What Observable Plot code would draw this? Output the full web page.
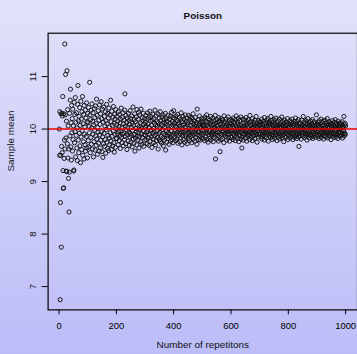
<!DOCTYPE html>
<html>
<head>
<meta charset="utf-8">
<script src="https://cdn.jsdelivr.net/npm/d3@7"></script>
<script src="https://cdn.jsdelivr.net/npm/@observablehq/plot@0.6"></script>
<style>
html, body { margin: 0; padding: 0; overflow: hidden; }
body { width: 357px; height: 354px; background: linear-gradient(to bottom, #e2e2fa, #bcbcf8); font-family: "Liberation Sans", Arial, sans-serif; }
#chart svg { display: block; }
</style>
</head>
<body>
<div id="chart"></div>
<script>
const title = "Poisson";
const xLabel = "Number of repetitons";
const yLabel = "Sample mean";
const xTicks = [0, 200, 400, 600, 800, 1000];
const yTicks = [7, 8, 9, 10, 11];
const trueMean = 10;

// sample means, repetitions 1..100
const means001 = [10, 9.5, 10.33, 6.75, 8.6, 9.5, 10.29, 7.75, 9.67, 10.3, 9.55, 10.25, 10.62, 9.21, 8.87, 8.88, 10.29, 9.44, 9.79, 11.62,
 9.62, 10.27, 11.04, 9.83, 9.2, 10.15, 9.19, 11.11, 9.72, 10.37, 9.45, 10.06, 9.06, 9.62, 8.42, 9.18, 10.3, 9.87, 10.55, 10.76,
 9.66, 10.12, 9.41, 10.45, 9.93, 10.2, 9.58, 10.38, 9.8, 10.06, 9.2, 9.22, 10.51, 9.74, 10.28, 9.95, 10.6, 9.47, 10.13, 9.88,
 10.31, 9.64, 10.02, 9.4, 10.47, 10.83, 9.79, 10.16, 9.55, 10.24, 9.92, 10.41, 9.68, 10.07, 9.36, 10.53, 9.85, 10.19, 9.61, 10.33,
 9.97, 10.62, 9.5, 10.1, 9.76, 10.28, 9.43, 10.45, 9.9, 10.04, 9.7, 10.36, 9.58, 10.21, 9.86, 10.5, 9.64, 10.14, 9.45, 10.3];
// repetitions 101..200
const means101 = [10.12, 9.78, 10.41, 9.66, 10.05, 9.93, 10.89, 10.27, 9.55, 10.18, 9.84, 10.36, 9.71, 10.02, 10.48, 9.62, 10.15, 9.9, 10.31, 9.47,
 10.08, 9.76, 10.39, 9.98, 10.22, 9.6, 10.44, 9.87, 10.11, 9.69, 10.57, 9.81, 10.26, 9.52, 10.03, 9.94, 10.35, 9.73, 10.17, 9.58,
 10.46, 9.89, 10.09, 9.64, 10.29, 9.79, 10.52, 9.95, 10.2, 9.57, 10.38, 9.85, 9.46, 10.13, 9.72, 10.42, 9.92, 10.24, 9.67, 10.06,
 9.8, 10.33, 9.54, 10.16, 9.99, 10.47, 9.75, 10.1, 9.63, 10.3, 9.88, 10.21, 9.59, 10.4, 9.83, 10.04, 9.7, 10.27, 9.93, 10.55,
 9.77, 10.14, 9.61, 10.34, 9.86, 10.07, 9.68, 10.23, 9.96, 10.43, 9.74, 10.11, 9.56, 10.28, 9.9, 10.19, 9.65, 10.37, 9.82, 10.01];
// repetitions 201..300
const means201 = [10.08, 9.82, 10.24, 9.91, 10.15, 9.7, 10.33, 9.95, 10.05, 9.78, 10.28, 9.87, 10.12, 9.63, 10.19, 9.96, 10.4, 9.84, 10.02, 9.74,
 10.22, 9.9, 10.31, 9.68, 10.1, 9.93, 10.17, 9.8, 10.36, 10.67, 9.86, 10.06, 9.72, 10.26, 9.98, 10.13, 9.61, 10.21, 9.89, 10.04,
 9.77, 10.3, 9.94, 10.16, 9.69, 10.09, 9.85, 10.35, 9.92, 10.2, 9.75, 10.03, 9.88, 10.25, 9.66, 10.11, 9.97, 10.42, 9.81, 10.07,
 9.73, 10.18, 9.9, 10.29, 9.58, 10.14, 9.83, 10.01, 9.95, 10.23, 9.7, 10.37, 9.87, 10.08, 9.79, 10.19, 9.93, 10.32, 9.64, 10.05,
 9.86, 10.27, 9.99, 10.12, 9.76, 10.38, 9.91, 10.02, 9.71, 10.22, 9.84, 10.15, 9.97, 10.3, 9.67, 10.09, 9.89, 10.2, 9.78, 10.04];
// repetitions 301..400
const means301 = [10.13, 9.88, 10.26, 9.8, 10.06, 9.93, 10.19, 9.72, 10.31, 9.96, 10.1, 9.83, 10.22, 9.69, 10.03, 9.9, 10.34, 9.77, 10.15, 9.98,
 10.24, 9.85, 10.07, 9.65, 10.17, 9.92, 10.28, 9.81, 10.01, 9.74, 10.2, 9.95, 10.11, 9.87, 10.36, 9.7, 10.08, 9.9, 10.25, 9.78,
 10.14, 9.97, 10.05, 9.84, 10.29, 9.62, 10.12, 9.91, 10.21, 9.8, 10.02, 9.94, 10.33, 9.76, 10.16, 9.86, 10.09, 9.73, 10.23, 9.99,
 10.06, 9.83, 10.27, 9.68, 10.13, 9.92, 10.18, 9.79, 10.04, 9.89, 10.3, 9.6, 10.1, 9.95, 10.2, 9.75, 10.15, 9.87, 10.07, 9.82,
 10.26, 9.93, 10.01, 9.71, 10.19, 9.9, 10.11, 9.85, 10.24, 9.77, 10.05, 9.96, 10.32, 9.8, 10.14, 9.88, 10.08, 9.74, 10.22, 10.35];
// repetitions 401..500
const means401 = [9.92, 10.11, 9.84, 10.2, 9.97, 10.06, 9.78, 10.25, 9.9, 10.03, 9.81, 10.16, 9.94, 10.28, 9.73, 10.09, 9.88, 10.13, 9.99, 10.22,
 9.76, 10.05, 9.91, 10.18, 9.83, 10.31, 9.95, 10.02, 9.7, 10.14, 9.87, 10.24, 9.93, 10.07, 9.8, 10.19, 9.96, 10.1, 9.75, 10.27,
 9.89, 10.04, 9.85, 10.15, 9.98, 10.21, 9.72, 10.08, 9.92, 10.12, 9.82, 10.26, 9.95, 10.01, 9.78, 10.17, 9.9, 10.23, 9.86, 10.06,
 9.97, 10.14, 9.74, 10.2, 9.88, 10.03, 9.93, 10.29, 9.81, 10.1, 9.96, 10.16, 9.77, 10.05, 9.91, 10.22, 9.84, 10.09, 9.99, 10.13,
 9.71, 10.38, 9.89, 10.02, 9.94, 10.18, 9.8, 10.07, 9.95, 10.25, 9.87, 10.11, 9.79, 10.04, 9.92, 10.15, 9.83, 10.2, 9.97, 10.08];
// repetitions 501..600
const means501 = [10.12, 9.9, 10.05, 9.82, 10.19, 9.96, 10.08, 9.78, 10.23, 9.92, 10.02, 9.86, 10.15, 9.99, 10.27, 9.8, 10.07, 9.93, 10.13, 9.75,
 10.2, 9.89, 10.04, 9.95, 10.17, 9.83, 10.1, 9.97, 10.24, 9.79, 10.06, 9.91, 10.14, 9.87, 10.01, 9.94, 10.21, 9.76, 10.09, 9.9,
 10.16, 9.84, 10.03, 9.98, 10.26, 9.43, 10.11, 9.92, 10.07, 9.81, 10.18, 9.95, 10.05, 9.88, 10.13, 9.77, 10.22, 9.93, 10.02, 9.85,
 10.15, 9.57, 9.99, 10.1, 9.8, 10.2, 9.9, 10.04, 9.94, 10.17, 9.82, 10.08, 9.96, 10.12, 9.74, 10.25, 9.89, 10.03, 9.92, 10.14,
 9.86, 10.06, 9.98, 10.19, 9.79, 10.1, 9.91, 10.01, 9.95, 10.23, 9.83, 10.07, 9.9, 10.16, 9.77, 10.11, 9.97, 10.04, 9.85, 10.18];
// repetitions 601..700
const means601 = [9.93, 10.09, 9.84, 10.15, 9.97, 10.05, 9.8, 10.21, 9.91, 10.02, 9.88, 10.12, 9.95, 10.18, 9.78, 10.07, 9.92, 10.25, 9.86, 10.03,
 9.98, 10.14, 9.82, 10.1, 9.94, 10.2, 9.76, 10.06, 9.9, 10.16, 9.87, 10.01, 9.96, 10.23, 9.81, 10.08, 9.93, 9.64, 9.85, 10.04,
 9.99, 10.19, 9.79, 10.11, 9.91, 10.06, 9.89, 10.17, 9.95, 10.02, 9.83, 10.22, 9.92, 10.09, 9.77, 10.14, 9.97, 10.05, 9.86, 10.18,
 9.9, 10.03, 9.94, 10.12, 9.8, 10.26, 9.88, 10.07, 9.96, 10.15, 9.84, 10.01, 9.92, 10.2, 9.78, 10.1, 9.98, 10.04, 9.87, 10.13,
 9.93, 10.08, 9.82, 10.17, 9.95, 10.02, 9.89, 10.24, 9.91, 10.06, 9.75, 10.11, 9.97, 10.03, 9.85, 10.16, 9.9, 10.09, 9.94, 10.14];
// repetitions 701..800
const means701 = [10.07, 9.9, 10.13, 9.85, 10.02, 9.96, 10.19, 9.81, 10.08, 9.93, 10.04, 9.88, 10.15, 9.97, 10.1, 9.79, 10.22, 9.92, 10.01, 9.86,
 10.12, 9.95, 10.06, 9.83, 10.17, 9.9, 10.03, 9.98, 10.2, 9.77, 10.09, 9.94, 10.14, 9.87, 10.05, 9.91, 10.11, 9.84, 10.24, 9.96,
 10.02, 9.89, 10.16, 9.8, 10.07, 9.93, 10.13, 9.86, 10.04, 9.99, 10.18, 9.82, 10.09, 9.92, 10.01, 9.88, 10.21, 9.95, 10.06, 9.78,
 10.12, 9.9, 10.03, 9.97, 10.15, 9.85, 10.08, 9.93, 10.19, 9.81, 10.05, 9.91, 10.1, 9.87, 10.02, 9.96, 10.23, 9.83, 10.07, 9.94,
 10.14, 9.89, 10.04, 9.76, 10.11, 9.98, 10.17, 9.86, 10.06, 9.92, 10.01, 9.84, 10.13, 9.95, 10.08, 9.9, 10.2, 9.8, 10.03, 9.97];
// repetitions 801..900
const means801 = [10.1, 9.88, 10.05, 9.94, 10.16, 9.83, 10.08, 9.91, 10.02, 9.97, 10.13, 9.86, 10.19, 9.92, 10.04, 9.8, 10.11, 9.95, 10.07, 9.89,
 10.15, 9.84, 10.01, 9.98, 10.21, 9.87, 10.09, 9.93, 10.03, 9.82, 10.14, 9.9, 10.06, 9.96, 10.18, 9.85, 9.67, 10.1, 9.92, 10.02,
 9.88, 10.12, 9.97, 10.05, 9.81, 10.17, 9.94, 10.08, 9.9, 10.01, 9.86, 10.24, 9.93, 10.06, 9.98, 10.13, 9.84, 10.04, 9.91, 10.11,
 9.87, 10.16, 9.95, 10.03, 9.79, 10.09, 9.92, 10.2, 9.89, 10.05, 9.97, 10.12, 9.83, 10.07, 9.94, 10.02, 9.88, 10.15, 9.9, 10.1,
 9.85, 10.04, 9.96, 10.18, 9.82, 10.08, 9.93, 10.01, 9.87, 10.14, 9.91, 10.06, 9.98, 10.11, 9.84, 10.03, 9.95, 10.27, 9.89, 10.09];
// repetitions 901..1000
const means901 = [9.94, 10.07, 9.86, 10.13, 9.97, 10.03, 9.82, 10.16, 9.91, 10.05, 9.88, 10.1, 9.95, 10.19, 9.84, 10.02, 9.93, 10.12, 9.89, 10.06,
 9.98, 10.15, 9.81, 10.08, 9.92, 10.01, 9.87, 10.17, 9.96, 10.04, 9.85, 10.11, 9.9, 10.07, 9.94, 10.2, 9.83, 10.03, 9.97, 10.09,
 9.88, 10.14, 9.92, 10.02, 9.86, 10.12, 9.95, 10.06, 9.8, 10.1, 9.91, 10.04, 9.98, 10.16, 9.87, 10.01, 9.93, 10.08, 9.84, 10.13,
 9.96, 10.05, 9.89, 10.18, 9.92, 10.03, 9.85, 10.11, 9.97, 10.07, 9.9, 10.02, 9.82, 10.15, 9.94, 10.06, 9.88, 10.1, 9.95, 10.04,
 9.86, 10.12, 9.93, 10.01, 9.89, 10.09, 9.97, 10.14, 9.83, 10.05, 9.91, 10.03, 9.96, 10.24, 9.87, 10.08, 9.92, 10.11, 9.9, 10.06];

const means = [...means001, ...means101, ...means201, ...means301, ...means401,
               ...means501, ...means601, ...means701, ...means801, ...means901];
const data = means.map((m, i) => ({n: i + 1, mean: m}));

const font = "'Liberation Sans', Arial, Helvetica, sans-serif";

const chart = Plot.plot({
  width: 360,
  height: 354,
  marginLeft: 48,
  marginRight: 0,
  marginTop: 33,
  marginBottom: 42,
  style: {background: "transparent", fontFamily: font, fontSize: "9.5px", color: "#000"},
  x: {domain: [-38.96, 1039.96], range: [47.75, 359.6]},
  y: {domain: [6.55, 11.82], range: [312.3, 33.3]},
  marks: [
    Plot.dot(data, {x: "n", y: "mean", r: 2.1, stroke: "#111", strokeWidth: 0.95, fill: "none"}),
    Plot.ruleY([trueMean], {stroke: "#ee0000", strokeWidth: 1.6}),
    Plot.frame({stroke: "#000", strokeWidth: 1.2}),
    Plot.axisX({ticks: xTicks, tickSize: 5, tickPadding: 8, label: null, fontSize: 9.5, tickFormat: d => String(d)}),
    Plot.axisY({ticks: yTicks, tickSize: 6, label: null, tickFormat: () => ""}),
    Plot.text(yTicks, {y: d => d, text: d => String(d), frameAnchor: "left", dx: -15.5, rotate: -90, textAnchor: "middle", lineAnchor: "middle", fontSize: 9.5, fill: "#111"}),
    Plot.text([title], {frameAnchor: "top", dy: -21.5, fontWeight: "bold", fontSize: 10, fill: "#111"}),
    Plot.text([xLabel], {frameAnchor: "bottom", dy: 38, fontSize: 10, fill: "#111"}),
    Plot.text([yLabel], {frameAnchor: "left", dx: -37.5, rotate: -90, fontSize: 10, fill: "#111"})
  ]
});
document.getElementById("chart").appendChild(chart);
</script>
</body>
</html>
